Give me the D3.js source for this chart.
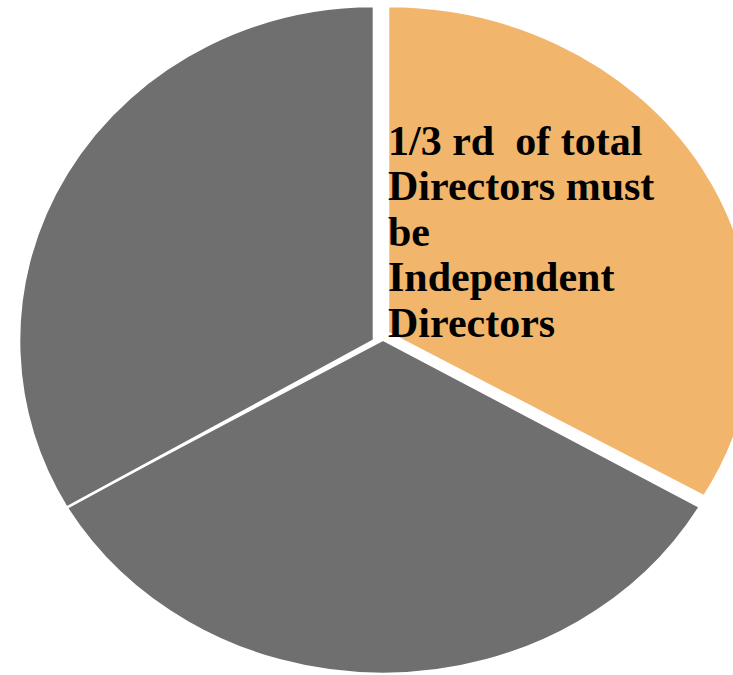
<!DOCTYPE html>
<html>
<head>
<meta charset="utf-8">
<script src="https://cdn.jsdelivr.net/npm/d3@7"></script>
<style>
  html, body { margin: 0; padding: 0; background: #fff; }
  svg { display: block; }
</style>
</head>
<body>
<div id="chart"></div>
<script>
// chart data (three equal parts of the board)
const categories = ["Independent Directors", "Other Directors A", "Other Directors B"]
const values = [1, 1, 1]
const colors = ["#f2b56c", "#6f6f6f", "#6f6f6f"]
const labelLines = ["1/3 rd  of total", "Directors must", "be", "Independent", "Directors"]

// screen setting
const svgWidth = 733
const svgHeight = 675

// per slice placement (exploded slices, slightly stretched wide)
const sliceCx = [388, 383, 374]
const sliceCy = [333, 339.5, 340.5]
const sliceRx = [365, 366, 355]
const sliceRy = [327, 334.5, 334.5]

function translate(x, y) { return `translate(${x}, ${y})` }

const svg = d3.select("#chart").append("svg")
    .attr("width", svgWidth)
    .attr("height", svgHeight)

const pie = d3.pie().sort(null).value(d => d)
const arcs = pie(values)

const sliceArea = svg.append("g").attr("id", "slices")
sliceArea.selectAll("path")
    .data(arcs)
    .join("path")
    .attr("transform", (d, i) => translate(sliceCx[i], sliceCy[i]) + ` scale(${sliceRx[i] / sliceRy[i]}, 1)`)
    .attr("d", (d, i) => d3.arc().innerRadius(0).outerRadius(sliceRy[i])(d))
    .attr("fill", (d, i) => colors[i])
    .attr("stroke", "#fff")
    .attr("stroke-width", 2.6)
    .attr("stroke-linejoin", "miter")
    .attr("vector-effect", "non-scaling-stroke")
    .append("title").text((d, i) => categories[i])

// label of the first slice
const label = svg.append("g")
    .attr("transform", translate(388, 154.5))
label.append("text")
    .attr("font-family", "'Liberation Serif', 'Times New Roman', serif")
    .attr("font-weight", "bold")
    .attr("font-size", 42)
    .attr("fill", "#000")
    .style("white-space", "pre")
    .selectAll("tspan")
    .data(labelLines)
    .join("tspan")
    .attr("x", 0)
    .attr("dy", (d, i) => i == 0 ? 0 : 45.6)
    .text(d => d)
</script>
</body>
</html>
